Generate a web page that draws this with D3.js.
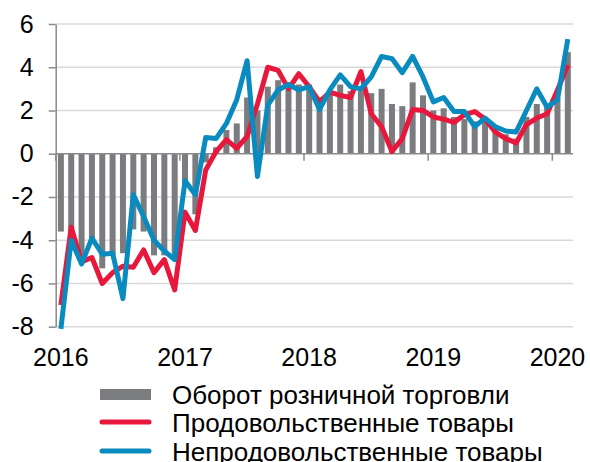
<!DOCTYPE html>
<html><head><meta charset="utf-8">
<script src="https://cdn.jsdelivr.net/npm/d3@7/dist/d3.min.js"></script>
<style>body{margin:0;background:#fff;} svg{display:block;font-family:"Liberation Sans",Arial,sans-serif;}</style>
</head><body><svg id="c" width="590" height="462"></svg>
<script>
// Months Jan 2016 .. Feb 2020
const months = d3.timeMonths(new Date(2016,0,1), new Date(2020,2,1));
const yearLabels = ["2016","2017","2018","2019","2020"];
const yTicks = [-8,-6,-4,-2,0,2,4,6];
const seriesNames = ["Оборот розничной торговли","Продовольственные товары","Непродовольственные товары"];

const retail = [-3.6,-4.2,-4.7,-4.1,-5.3,-4.7,-4.6,-3.5,-3.6,-4.7,-4.7,-4.9,
  -1.5,-2.8,-0.4,0.3,1.1,1.4,2.6,2.0,3.1,3.4,3.3,3.2,
  3.2,2.6,2.8,3.2,2.9,2.9,2.8,3.0,2.3,2.2,3.3,2.7,
  2.0,2.1,1.7,1.6,1.5,1.5,1.2,0.9,0.7,1.7,2.3,2.2,
  2.6,4.7];
const food = [-7.0,-3.4,-5.0,-4.8,-6.0,-5.5,-5.2,-5.25,-4.45,-5.5,-4.9,-6.3,
  -2.7,-3.55,-0.75,0.1,0.65,0.25,0.8,2.3,4.0,3.85,3.0,3.7,
  3.1,2.4,2.85,2.7,2.6,3.8,1.85,1.25,0.1,0.7,2.05,2.0,
  1.7,1.6,1.45,1.8,1.95,1.6,1.0,0.7,0.5,1.35,1.65,1.85,
  2.95,4.1];
const nonfood = [-8.1,-4.0,-5.1,-3.9,-4.65,-4.6,-6.7,-1.9,-2.9,-4.0,-4.5,-4.9,
  -1.25,-1.9,0.75,0.7,1.4,2.5,4.3,-1.05,2.25,2.95,3.2,2.95,
  3.1,2.05,2.95,3.65,3.1,3.0,3.55,4.5,4.4,3.75,4.5,3.55,
  2.4,2.6,1.95,1.95,1.25,1.65,1.25,1.05,1.0,2.0,3.0,2.15,
  2.5,5.3];

const C = {bar:"#7b7c80", red:"#e8173c", blue:"#0a8bbf", grid:"#d9d9d9", axis:"#8a8a8a"};
const L=55.7, R=573, T=24, B=326.7;
const svg = d3.select("#c");
const x = d3.scaleBand().domain(months).range([L,R]).paddingInner(0.42).paddingOuter(0.21);
const y = d3.scaleLinear().domain([-8,6]).range([B,T]);
const bw = x.bandwidth(), gap = (x.step()-bw)/2;
const cx = d => x(d)+bw/2;

// grid
svg.append("g").selectAll("line").data(yTicks.filter(t=>t!==0)).join("line")
  .attr("x1",L).attr("x2",R).attr("y1",d=>y(d)).attr("y2",d=>y(d))
  .attr("stroke",C.grid).attr("stroke-width",1.5);

// bars
svg.append("g").selectAll("rect").data(retail).join("rect")
  .attr("x",(d,i)=>x(months[i])).attr("width",bw)
  .attr("y",d=>y(Math.max(0,d))).attr("height",d=>Math.abs(y(d)-y(0)))
  .attr("fill",C.bar);

// zero axis with year boundary ticks
const jan = months.filter(m=>m.getMonth()===0);
const gx = svg.append("g");
gx.append("line").attr("x1",L).attr("x2",R).attr("y1",y(0)).attr("y2",y(0)).attr("stroke",C.axis).attr("stroke-width",1.5);
gx.selectAll("line.t").data(jan).join("line").attr("class","t")
  .attr("x1",d=>x(d)-gap).attr("x2",d=>x(d)-gap).attr("y1",y(0)).attr("y2",y(0)+7)
  .attr("stroke",C.axis).attr("stroke-width",1.5);
gx.selectAll("text").data(jan).join("text")
  .attr("x",d=>cx(d)).attr("y",366).attr("text-anchor","middle")
  .attr("font-size",25).attr("fill","#000").text((d,i)=>yearLabels[i]);

// y axis
const ya = svg.append("g").attr("transform",`translate(${L},0)`)
  .call(d3.axisLeft(y).tickValues(yTicks).tickSize(7).tickSizeOuter(0).tickPadding(15).tickFormat(d=>String(d)));
ya.select(".domain").attr("stroke",C.axis).attr("stroke-width",1.5);
ya.selectAll(".tick line").attr("stroke",C.axis).attr("stroke-width",1.5);
ya.selectAll(".tick text").attr("font-size",25).attr("fill","#000").attr("font-family","Liberation Sans, Arial, sans-serif");

// lines
const line = d3.line().x((d,i)=>cx(months[i])).y(d=>y(d)).curve(d3.curveLinear);
svg.append("path").datum(food).attr("d",line).attr("fill","none").attr("stroke",C.red).attr("stroke-width",5).attr("stroke-linejoin","round");
svg.append("path").datum(nonfood).attr("d",line).attr("fill","none").attr("stroke",C.blue).attr("stroke-width",5).attr("stroke-linejoin","round");

// legend
const lg = svg.append("g");
const rows = [394, 422, 451];
lg.append("rect").attr("x",100).attr("y",rows[0]-5).attr("width",51).attr("height",11).attr("fill",C.bar);
lg.append("line").attr("x1",102).attr("x2",149).attr("y1",rows[1]).attr("y2",rows[1]).attr("stroke",C.red).attr("stroke-width",5).attr("stroke-linecap","round");
lg.append("line").attr("x1",102).attr("x2",149).attr("y1",rows[2]).attr("y2",rows[2]).attr("stroke",C.blue).attr("stroke-width",5).attr("stroke-linecap","round");
lg.selectAll("text").data(seriesNames).join("text")
  .attr("x",172).attr("y",(d,i)=>rows[i]+9.5).attr("font-size",26).attr("fill","#000").text(d=>d);
</script></body></html>
